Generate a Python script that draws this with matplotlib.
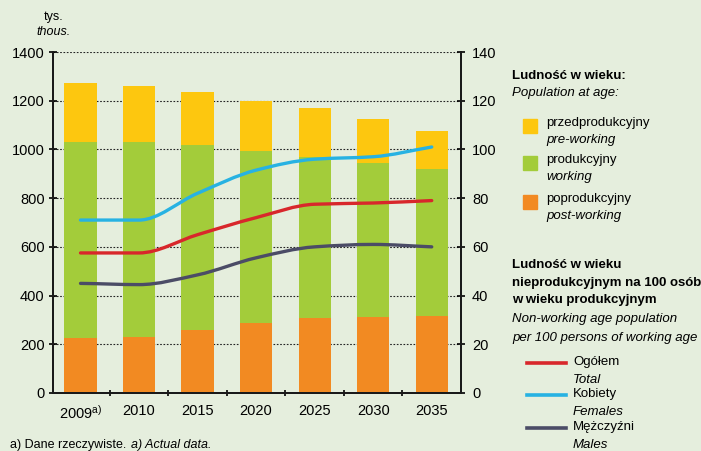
import matplotlib
matplotlib.use("Agg")
import matplotlib.pyplot as plt
from matplotlib.path import Path
from matplotlib.patches import PathPatch, Rectangle
from matplotlib.lines import Line2D
import numpy as np

plt.rcParams['font.family'] = ['Liberation Sans', 'DejaVu Sans']
plt.rcParams['mathtext.fontset'] = 'custom'
plt.rcParams['mathtext.rm'] = 'Liberation Sans'
plt.rcParams['mathtext.it'] = 'Liberation Sans:italic'

# ---- data ----
years = ['2009', '2010', '2015', '2020', '2025', '2030', '2035']
tick_labels = ['2009$^{\\mathrm{a)}}$', '2010', '2015', '2020', '2025', '2030', '2035']
post_working = [226, 230, 259, 287, 308, 312, 316]
working = [805, 801, 759, 707, 661, 633, 604]
pre_working = [242, 230, 218, 205, 201, 180, 156]
ratio_total = [57.5, 57.5, 65, 72, 77.5, 78, 79]
ratio_females = [71, 71, 82, 91.5, 96, 97, 101]
ratio_males = [45, 44.5, 48.5, 55.5, 60, 61, 60]

BG = '#E5EEDD'
C_PRE = '#FDC70F'
C_WORK = '#A3CC3A'
C_POST = '#F28A22'
C_TOT = '#D8272B'
C_FEM = '#27B2E2'
C_MAL = '#4B4C66'

fig = plt.figure(figsize=(7.01, 4.51), dpi=100, facecolor=BG)
ax = fig.add_axes([53/701, 1-393/451, 408/701, 341/451])
ax.set_facecolor(BG)
ax2 = ax.twinx()

x = np.arange(len(years))
w = 0.55
ax.bar(x, post_working, w, color=C_POST, zorder=2)
b2 = np.array(post_working)
ax.bar(x, working, w, bottom=b2, color=C_WORK, zorder=2)
b3 = b2 + np.array(working)
ax.bar(x, pre_working, w, bottom=b3, color=C_PRE, zorder=2)

ax.set_xlim(-0.47, 6.5)
ax.set_ylim(0, 1400)
ax2.set_ylim(0, 140)
ax.set_yticks(np.arange(0, 1401, 200))
ax2.set_yticks(np.arange(0, 141, 20))
ax.set_xticks(x)
ax.set_xticklabels(tick_labels)
ax.set_xticks(np.arange(0.5, 6, 1), minor=True)

for y in np.arange(200, 1401, 200):
    ax.axhline(y, color='#222222', lw=0.8, ls=(0, (1.5, 1.5)), zorder=1)

for a in (ax, ax2):
    a.spines['top'].set_visible(False)
    for s in ('left', 'right', 'bottom'):
        a.spines[s].set_linewidth(1.4)
        a.spines[s].set_color('#1a1a1a')

ax.tick_params(axis='y', direction='inout', length=6, width=1.2, labelsize=10.5, pad=3)
ax2.tick_params(axis='y', direction='inout', length=6, width=1.2, labelsize=10.5, pad=5)
ax.tick_params(axis='x', which='major', length=0, labelsize=10.5, pad=8)
ax.tick_params(axis='x', which='minor', direction='inout', length=5, width=1.2)


def smooth_path(xs, ys):
    xs = np.asarray(xs, float)
    ys = np.asarray(ys, float)
    n = len(xs)
    h = np.diff(xs)
    dl = np.diff(ys) / h
    d = np.zeros(n)
    for k in range(1, n - 1):
        if dl[k - 1] * dl[k] > 0:
            d[k] = 2.0 / (1.0 / dl[k - 1] + 1.0 / dl[k])
    d[0] = dl[0] * 0.5
    d[-1] = dl[-1]
    verts = [(xs[0], ys[0])]
    codes = [Path.MOVETO]
    for i in range(n - 1):
        verts += [(xs[i] + h[i] / 3, ys[i] + d[i] * h[i] / 3),
                  (xs[i + 1] - h[i] / 3, ys[i + 1] - d[i + 1] * h[i] / 3),
                  (xs[i + 1], ys[i + 1])]
        codes += [Path.CURVE4] * 3
    return Path(verts, codes)

for series, col in ((ratio_females, C_FEM), (ratio_total, C_TOT), (ratio_males, C_MAL)):
    patch = PathPatch(smooth_path(x, series), fill=False, edgecolor=col, lw=2.4,
                      capstyle='round', joinstyle='round', zorder=5)
    ax2.add_patch(patch)

# axis unit label
fig.text(54/701, 1-17/451, 'tys.', ha='center', va='center', fontsize=9)
fig.text(54/701, 1-32/451, 'thous.', ha='center', va='center', fontsize=9, style='italic')

# legend (right side)
def ft(px, py, s, **kw):
    fig.text(px/701, 1-py/451, s, va='center', ha='left', **kw)

ft(512, 76, 'Ludność w wieku:', fontsize=9.5, weight='bold')
ft(512, 93, 'Population at age:', fontsize=9.5, style='italic')
items = [(C_PRE, 126, 'przedprodukcyjny', 'pre-working'),
         (C_WORK, 163, 'produkcyjny', 'working'),
         (C_POST, 202, 'poprodukcyjny', 'post-working')]
for col, yc, pl, en in items:
    fig.patches.append(Rectangle((523/701, 1-(yc+7)/451), 14/701, 14/451,
                                 transform=fig.transFigure, color=col))
    ft(546, yc - 3, pl, fontsize=9.5)
    ft(546, yc + 14, en, fontsize=9.5, style='italic')

ft(512, 265, 'Ludność w wieku', fontsize=9.5, weight='bold')
ft(512, 283, 'nieprodukcyjnym na 100 osób', fontsize=9.5, weight='bold')
ft(512, 300, 'w wieku produkcyjnym', fontsize=9.5, weight='bold')
ft(512, 319, 'Non-working age population', fontsize=9.5, style='italic')
ft(512, 338, 'per 100 persons of working age', fontsize=9.5, style='italic')
lines = [(C_TOT, 363, 'Ogółem', 'Total'),
         (C_FEM, 395, 'Kobiety', 'Females'),
         (C_MAL, 428, 'Mężczyźni', 'Males')]
for col, yc, pl, en in lines:
    fig.lines.append(Line2D([527/701, 566/701], [1-yc/451, 1-yc/451],
                            transform=fig.transFigure, color=col, lw=2.6))
    ft(573, yc - 1, pl, fontsize=9.5)
    ft(573, yc + 17, en, fontsize=9.5, style='italic')

fig.text(10/701, 1-445/451, 'a) Dane rzeczywiste.', ha='left', va='center', fontsize=9)
fig.text(131/701, 1-445/451, 'a) Actual data.', ha='left', va='center', fontsize=9, style='italic')

fig.savefig('out.png', dpi=100, facecolor=BG)
